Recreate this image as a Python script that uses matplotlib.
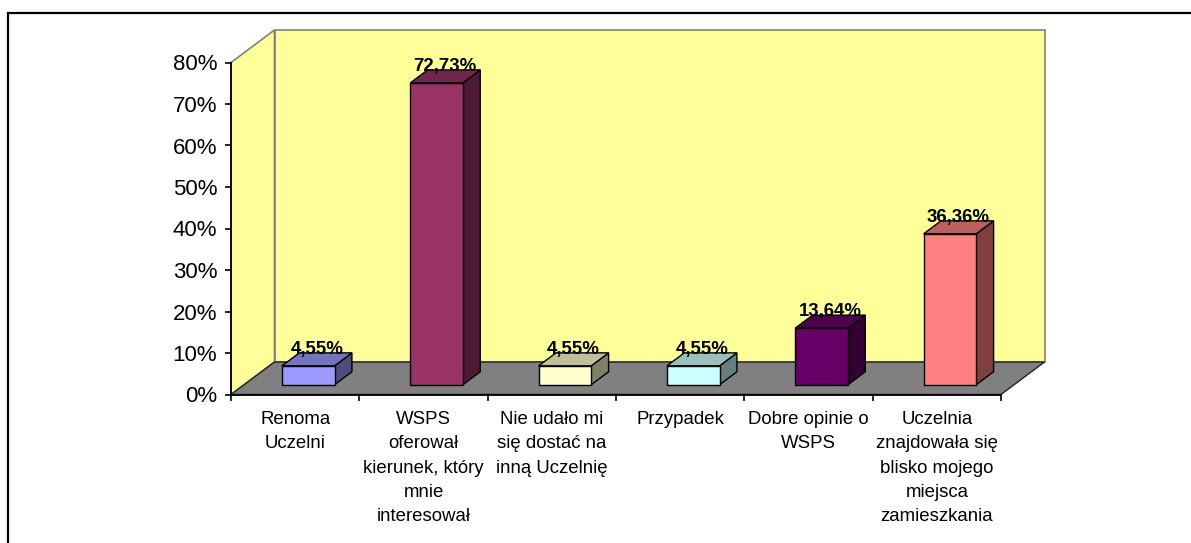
import matplotlib
matplotlib.use('Agg')
import matplotlib.pyplot as plt
from matplotlib.patches import Polygon, Rectangle
from matplotlib.ticker import FuncFormatter

categories = [
    'Renoma\nUczelni',
    'WSPS\noferował\nkierunek, który\nmnie\ninteresował',
    'Nie udało mi\nsię dostać na\ninną Uczelnię',
    'Przypadek',
    'Dobre opinie o\nWSPS',
    'Uczelnia\nznajdowała się\nblisko mojego\nmiejsca\nzamieszkania',
]
values = [4.55, 72.73, 4.55, 4.55, 13.64, 36.36]
bar_colors = ['#9999FF', '#993366', '#FFFFCC', '#CCFFFF', '#660066', '#FF8080']
y_ticks = [0, 10, 20, 30, 40, 50, 60, 70, 80]

plt.rcParams['font.family'] = ['Liberation Sans', 'DejaVu Sans']

# oblique depth of the floor (data units) and where bars sit inside it
DX, DY = 0.339, 7.83
F0, F1 = 0.3, 0.7
BAR_W = 0.41


def shade(color, k):
    r, g, b = matplotlib.colors.to_rgb(color)
    return (r * k, g * k, b * k)


fig = plt.figure(figsize=(11.91, 5.43), dpi=100)
fig.patch.set_facecolor('white')
ax = fig.add_axes([0, 0, 1, 1])
ax.set_facecolor('none')

n = len(values)
ymax = y_ticks[-1]
sx = 770 / n
sy = 332 / ymax
ax.set_xlim(-231 / sx, (1191 - 231) / sx)
ax.set_ylim((394.5 - 543) / sy, 394.5 / sy)

# walls and floor
ax.add_patch(Polygon([(DX, DY), (n + DX, DY), (n + DX, ymax + DY), (DX, ymax + DY)],
                     closed=True, fc='#FFFF99', ec='#808080', lw=1.2, zorder=1))
ax.add_patch(Polygon([(0, 0), (0, ymax), (DX, ymax + DY), (DX, DY)],
                     closed=True, fc='#FFFF99', ec='#808080', lw=1.2, zorder=1))
ax.add_patch(Polygon([(0, 0), (n, 0), (n + DX, DY), (DX, DY)],
                     closed=True, fc='#808080', ec='#222222', lw=1, zorder=1.5))

# bars
for i, (v, c) in enumerate(zip(values, bar_colors)):
    x0 = i + 0.5 - BAR_W / 2 + F0 * DX
    x1 = x0 + BAR_W
    y0 = F0 * DY
    d = (F1 - F0)
    front = [(x0, y0), (x1, y0), (x1, y0 + v), (x0, y0 + v)]
    top = [(x0, y0 + v), (x1, y0 + v), (x1 + d * DX, y0 + v + d * DY), (x0 + d * DX, y0 + v + d * DY)]
    side = [(x1, y0), (x1 + d * DX, y0 + d * DY), (x1 + d * DX, y0 + v + d * DY), (x1, y0 + v)]
    ax.add_patch(Polygon(side, closed=True, fc=shade(c, 0.5), ec='black', lw=1, zorder=3))
    ax.add_patch(Polygon(top, closed=True, fc=shade(c, 0.75), ec='black', lw=1, zorder=3))
    ax.add_patch(Polygon(front, closed=True, fc=c, ec='black', lw=1, zorder=3))
    ax.text(i + 0.5 + 0.5 * DX, v + F1 * DY - 0.2, f'{v:.2f}%'.replace('.', ','),
            ha='center', va='baseline', fontsize=13.4, fontweight='bold', zorder=4)

# axes
for s in ['top', 'right']:
    ax.spines[s].set_visible(False)
ax.spines['left'].set_position(('data', 0))
ax.spines['left'].set_bounds(0, ymax)
ax.spines['bottom'].set_position(('data', 0))
ax.spines['bottom'].set_bounds(0, n)
for s in ['left', 'bottom']:
    ax.spines[s].set_linewidth(1.3)
    ax.spines[s].set_zorder(2.5)

ax.set_yticks(y_ticks)
ax.yaxis.set_major_formatter(FuncFormatter(lambda v, p: f'{v:.0f}%'))
ax.tick_params(axis='y', direction='out', length=4, width=1.2, pad=6, labelsize=16)

ax.set_xticks(range(n + 1))
ax.set_xticklabels([])
ax.set_xticks([i + 0.5 for i in range(n)], minor=True)
ax.set_xticklabels(categories, minor=True, fontsize=13.4, linespacing=1.56, va='top')
ax.tick_params(axis='x', which='major', direction='out', length=4.5, width=1.2)
ax.tick_params(axis='x', which='minor', length=0, pad=12)

# chart area border (cut off on the right and bottom)
fig.patches.append(Rectangle((8 / 1191, -0.1), 1.2, 1 - 13 / 543 + 0.1,
                             transform=fig.transFigure, fill=False, ec='black', lw=1.6))

fig.savefig('out.png', dpi=100)
